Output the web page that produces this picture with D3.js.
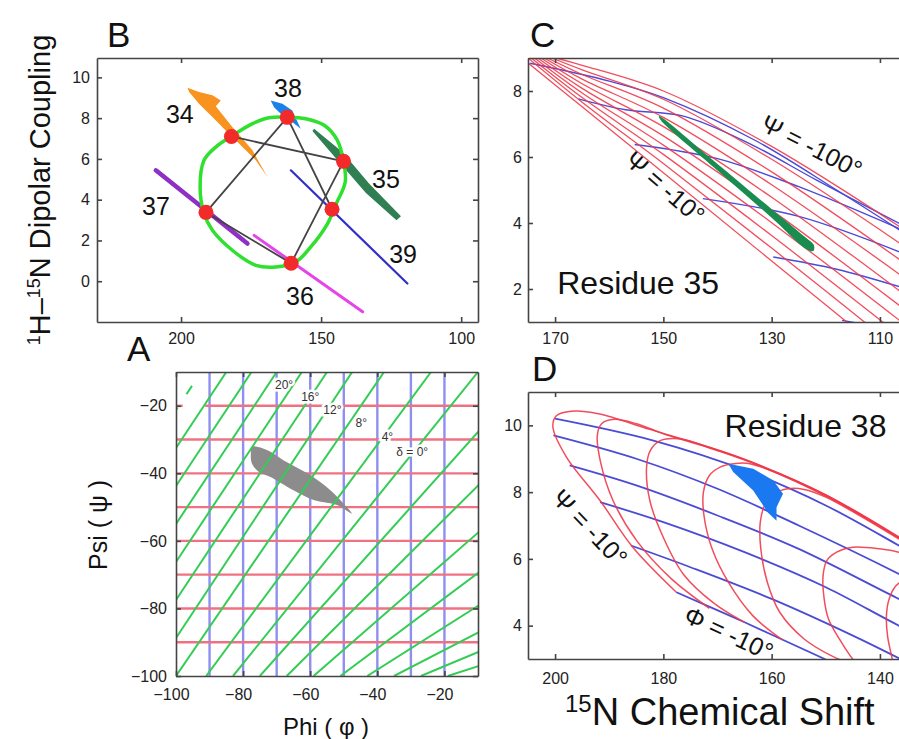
<!DOCTYPE html>
<html>
<head>
<meta charset="utf-8">
<script src="https://cdn.jsdelivr.net/npm/d3@7/dist/d3.min.js"></script>
<style>
  body { margin: 0; background: #fff; }
  svg text { font-family: "Liberation Sans", Arial, Helvetica, sans-serif; }
</style>
</head>
<body>
<script>
// ---------- panel B : PISA wheel (15N shift vs dipolar coupling) ----------
var residues = ["34", "35", "36", "37", "38", "39"];
var resShift = [182.0, 142.0, 160.7, 191.1, 162.1, 146.1];
var resDC = [7.1, 5.88, 0.88, 3.38, 8.04, 3.53];
var resLabelShift = [205.4, 131.8, 162.5, 213.9, 166.8, 125.7];
var resLabelDC = [7.75, 4.56, -1.18, 3.24, 9.02, 0.88];
var wheelShift = [182.0, 174.5, 168.6, 162.0, 155.5, 148.9, 144.2, 142.0, 141.4, 144.6, 147.7, 153.7, 159.0, 166.2, 173.3, 181.7, 188.8, 191.8, 193.2, 191.8, 187.6];
var wheelDC = [7.11, 7.73, 8.02, 8.05, 7.97, 7.65, 6.91, 5.88, 4.87, 3.8, 2.83, 1.68, 0.95, 0.70, 0.78, 1.52, 2.5, 3.32, 4.62, 5.93, 6.58];
var streak34 = [[197.7, 9.49], [193.6, 9.28], [188.8, 9.12], [185.8, 8.87], [187.6, 8.58], [181.7, 7.56], [174.5, 6.42], [169.2, 5.11], [173.3, 5.93], [179.3, 6.75], [182.9, 7.24], [188.8, 8.05], [193.6, 8.71], [197.1, 9.28]];
var streak38 = [[168.0, 8.87], [163.8, 8.71], [160.3, 8.38], [157.3, 7.48], [160.3, 7.81], [163.2, 8.05], [166.8, 8.54]];
var streak35 = [[152.5, 7.48], [142.4, 6.34], [132.9, 4.79], [121.5, 3.19], [123.1, 2.99], [134.0, 4.33], [143.6, 5.85], [153.1, 7.37]];
var streak39 = [[160.8, 5.44], [119.2, -0.11]];
var streak37 = [[209.0, 5.44], [176.3, 1.85]];
var streak36 = [[173.9, 2.25], [135.2, -1.5]];

// ---------- panel A : Ramachandran grid ----------
var aPhiGrid = [-90, -80, -70, -60, -50, -40, -30, -20];
var aPsiGrid = [-30, -40, -50, -60, -70, -80, -90];
var aGreenBottomPhi = [-160, -152.5, -145, -137.5, -130, -122.5, -115, -107.5, -100, -91, -83, -75, -67, -59, -51, -43, -35, -27, -19];
var aGreenTopPhi = [-100, -92.5, -85, -77.5, -70, -62.5, -55, -47.5, -38, -24, -10, 6, 24, 45, 70, 100, 140, 190, 260];
var aDeltaText = ["20°", "16°", "12°", "8°", "4°", "δ = 0°"];
var aDeltaPhi = [-67.8, -60, -53.4, -44.8, -37, -29.6];
var aDeltaPsi = [-13.8, -17.4, -21.3, -25.1, -29.3, -33.7];
var aBlob = [[-77.4, -32.1], [-72.9, -33.1], [-68, -36.1], [-60, -40.5], [-54, -45], [-50.1, -48.9], [-47.6, -51.9], [-52, -49.4], [-59, -47.9], [-65, -45], [-72, -41], [-75.4, -39.5], [-77.4, -37], [-77.7, -34.1]];

// ---------- panel C : residue 35 ----------
var cRedStartX = [175.5, 175, 174.4, 173.8, 173.2, 172.6, 172, 171.4, 170.6, 169.8];
var cRedStartY = [8.92, 9.0, 9.0, 9.0, 9.0, 9.0, 9.0, 9.0, 9.0, 9.0];
var cRedAt165 = [7.52, 7.66, 7.8, 7.94, 8.08, 8.22, 8.36, 8.5, 8.64, 8.78];
var cRedAt150 = [5.52, 5.8, 6.08, 6.36, 6.64, 6.92, 7.2, 7.48, 7.75, 8.0];
var cRedAt130 = [2.85, 3.24, 3.62, 4.01, 4.39, 4.78, 5.16, 5.55, 5.93, 6.32];
var cRedAt106 = [-0.35, 0.1, 0.55, 1.0, 1.45, 1.9, 2.4, 2.85, 3.35, 3.85];
var cBlue = [
  [[117, 1.05], [105, 0.7]],
  [[129.7, 2.97], [118, 2.6], [106, 2.05]],
  [[142.7, 4.74], [125, 4.2], [106, 3.1]],
  [[155.3, 6.38], [140, 5.95], [125, 5.1], [106, 3.8]],
  [[165.7, 7.76], [157, 7.43], [146.3, 7.24], [134, 6.4], [121.7, 5.3], [106, 3.95]],
  [[174.6, 8.84], [160, 8.3], [150, 7.8], [133, 6.5], [118, 5.0], [106, 3.75]]
];
var cStreak = [[150.8, 7.24], [140, 5.79], [130, 4.42], [124, 3.60], [122.2, 3.33], [122.3, 3.15], [123.5, 3.2], [130, 4.16], [140, 5.59], [150.5, 7.12]];

// ---------- panel D : residue 38 ----------
var dRed = [
  [[177.6, 5.0], [185.6, 6.34], [191.7, 7.75], [197.9, 9.05], [200.4, 9.95], [199.8, 10.28], [197, 10.42], [192, 10.35], [182.5, 9.88], [173, 9.42], [164, 8.92], [150, 7.92], [136.5, 6.66], [128, 5.8]],
  [[171.5, 4.52], [178.5, 5.4], [184.9, 6.54], [189.3, 7.75], [191.6, 8.9], [192.2, 9.7], [191.4, 10.05], [189, 10.18], [185, 10.05], [180, 9.75], [173, 9.4], [164, 8.9], [150, 7.9], [136.5, 6.64], [128, 5.78]],
  [[165, 4.1], [170.5, 4.65], [176.3, 5.54], [180, 6.64], [182.5, 7.75], [183.1, 8.75], [182.4, 9.25], [180.5, 9.55], [177, 9.6], [173, 9.42], [164, 8.92], [150, 7.92], [136.5, 6.64], [128, 5.78]],
  [[158, 3.57], [163.5, 4.3], [168, 5.3], [171, 6.3], [172.5, 7.3], [172.6, 8.0], [171.5, 8.5], [169.5, 8.75], [167, 8.85], [164, 8.85], [150, 7.88], [136.5, 6.62], [128, 5.76]],
  [[144.5, 2.8], [149, 3.1], [154, 3.6], [158.5, 4.4], [160.8, 5.3], [162, 6.3], [162.1, 7.1], [161.3, 7.6], [159.5, 7.95], [157, 8.1], [154, 8.08], [150, 7.85], [136.5, 6.6], [128, 5.74]],
  [[143.5, 2.7], [145.5, 3.1], [147.5, 3.6], [149.5, 4.2], [150.3, 4.8], [150.5, 5.5], [149.8, 5.95], [148, 6.2], [145, 6.35], [140, 6.3], [136.5, 6.2], [128, 5.6]],
  [[137.3, 2.7], [138, 3.2], [138.6, 3.7], [138.8, 4.3], [138.3, 4.8], [137, 5.2], [135, 5.4], [130, 5.3]]
];
var dBlue = [
  [[200, 10.2], [182, 9.55], [164, 8.6], [150, 7.6], [136.5, 6.4], [130, 5.8]],
  [[200.3, 9.7], [185, 9.0], [170, 8.1], [155, 7.0], [136.5, 5.55], [130, 5.0]],
  [[197.3, 8.8], [185, 8.2], [170, 7.3], [155, 6.3], [136.5, 4.8], [130, 4.3]],
  [[191.7, 7.7], [180, 7.1], [165, 6.2], [150, 5.15], [136.5, 4.0], [130, 3.5]],
  [[186, 6.4], [175, 5.75], [160, 4.8], [145, 3.7], [135, 2.9]],
  [[177.6, 5.0], [165, 4.1], [150.2, 3.0], [146, 2.7]]
];
var dStreak = [[168.0, 8.85], [163.4, 8.70], [159.7, 8.35], [157.9, 7.95], [159.1, 7.55], [159.1, 7.14], [160.7, 7.39], [163.4, 8.05], [167.1, 8.6]];

// ---------- scales ----------
var svg = d3.select("body").append("svg").attr("width", 899).attr("height", 739);

var xB = d3.scaleLinear().domain([230, 94]).range([97, 478]);
var yB = d3.scaleLinear().domain([-2, 10.95]).range([322, 58]);
var xC = d3.scaleLinear().domain([175, 105]).range([528, 907]);
var yC = d3.scaleLinear().domain([1, 9]).range([322, 58]);
var xA = d3.scaleLinear().domain([-100, -10]).range([176, 478]);
var yA = d3.scaleLinear().domain([-100, -10]).range([676, 372]);
var xD = d3.scaleLinear().domain([205, 135]).range([528, 907]);
var yD = d3.scaleLinear().domain([3, 11]).range([659, 392]);

function clip(id, x, y) {
  svg.append("clipPath").attr("id", id).append("rect")
    .attr("x", x.range()[0]).attr("y", y.range()[1])
    .attr("width", x.range()[1] - x.range()[0]).attr("height", y.range()[0] - y.range()[1]);
  return svg.append("g").attr("clip-path", "url(#" + id + ")");
}

function frame(x, y, xt, yt, padX, padY, dx) {
  var g = svg.append("g");
  var xr = x.range(), yr = y.range();
  g.append("g").attr("transform", "translate(0," + yr[0] + ")")
    .call(d3.axisBottom(x).tickValues(xt).tickSizeInner(-5).tickSizeOuter(0).tickPadding(padX))
    .selectAll("text").attr("dx", dx || 0);
  g.append("g").attr("transform", "translate(0," + yr[1] + ")")
    .call(d3.axisTop(x).tickValues(xt).tickSizeInner(-5).tickSizeOuter(0).tickFormat(""));
  g.append("g").attr("transform", "translate(" + xr[0] + ",0)")
    .call(d3.axisLeft(y).tickValues(yt).tickSizeInner(-5).tickSizeOuter(0).tickPadding(padY));
  g.append("g").attr("transform", "translate(" + xr[1] + ",0)")
    .call(d3.axisRight(y).tickValues(yt).tickSizeInner(-5).tickSizeOuter(0).tickFormat(""));
  g.selectAll(".domain, .tick line").attr("stroke", "#444").attr("stroke-width", 1.6);
  g.selectAll(".tick text").attr("font-size", 16).attr("fill", "#222");
}

// panel letter sits above the top-left corner of its frame
function panelLetter(txt, x, y, dx) {
  svg.append("text").attr("x", x.range()[0] + dx).attr("y", y.range()[1] - 11)
    .attr("font-size", 35).attr("fill", "#111").text(txt);
}

var line = d3.line();

// ================= panel B =================
var gB = clip("clipB", xB, yB);
var lineB = d3.line().x(function(d) { return xB(d[0]); }).y(function(d) { return yB(d[1]); });
gB.append("path").attr("d", lineB(streak36)).attr("fill", "none").attr("stroke", "#e444ea").attr("stroke-width", 3).attr("stroke-linecap", "round");
gB.append("path").attr("d", lineB(streak37)).attr("fill", "none").attr("stroke", "#8e2fc6").attr("stroke-width", 4.5).attr("stroke-linecap", "round");
gB.append("path").attr("d", lineB(streak39)).attr("fill", "none").attr("stroke", "#3030c8").attr("stroke-width", 2.2).attr("stroke-linecap", "round");
gB.append("path").attr("d", lineB(streak34) + "Z").attr("fill", "#f7931e");
gB.append("path").attr("d", lineB(streak38) + "Z").attr("fill", "#1c80ea");
gB.append("path").attr("d", lineB(streak35) + "Z").attr("fill", "#2f7f52");

var ovalPts = wheelShift.map(function(s, i) { return [xB(s), yB(wheelDC[i])]; });
gB.append("path").attr("d", d3.line().curve(d3.curveCatmullRomClosed)(ovalPts))
  .attr("fill", "none").attr("stroke", "#2fe02f").attr("stroke-width", 3.5);

var resPts = resShift.map(function(s, i) { return [xB(s), yB(resDC[i])]; });
gB.append("path").attr("d", line(resPts)).attr("fill", "none").attr("stroke", "#444").attr("stroke-width", 1.8);
gB.selectAll("circle").data(resPts).enter().append("circle")
  .attr("cx", function(d) { return d[0]; }).attr("cy", function(d) { return d[1]; })
  .attr("r", 7.5).attr("fill", "#f22a2a");
svg.selectAll("text.res").data(residues).enter().append("text").attr("class", "res")
  .attr("x", function(d, i) { return xB(resLabelShift[i]); })
  .attr("y", function(d, i) { return yB(resLabelDC[i]); })
  .attr("font-size", 25).attr("fill", "#111").text(function(d) { return d; });
frame(xB, yB, [200, 150, 100], [0, 2, 4, 6, 8, 10], 11, 7);

// ================= panel A =================
var gA = clip("clipA", xA, yA);
aPhiGrid.forEach(function(p) {
  gA.append("line").attr("x1", xA(p)).attr("x2", xA(p)).attr("y1", yA(-100)).attr("y2", yA(-10))
    .attr("stroke", "#8f8ff2").attr("stroke-width", 2.4);
});
gA.append("line").attr("x1", xA(-100)).attr("x2", xA(-98)).attr("y1", yA(-20)).attr("y2", yA(-20))
  .attr("stroke", "#f07282").attr("stroke-width", 2.4);
gA.append("line").attr("x1", xA(-91.3)).attr("x2", xA(-10)).attr("y1", yA(-20)).attr("y2", yA(-20))
  .attr("stroke", "#f07282").attr("stroke-width", 2.4);
aPsiGrid.forEach(function(p) {
  gA.append("line").attr("x1", xA(-100)).attr("x2", xA(-10)).attr("y1", yA(p)).attr("y2", yA(p))
    .attr("stroke", "#f07282").attr("stroke-width", 2.4);
});
gA.append("path").attr("d", d3.line().curve(d3.curveCatmullRomClosed)
    .x(function(d) { return xA(d[0]); }).y(function(d) { return yA(d[1]); })(aBlob))
  .attr("fill", "#8c8c8c");
aGreenBottomPhi.forEach(function(b, i) {
  gA.append("line").attr("x1", xA(b)).attr("y1", yA(-100)).attr("x2", xA(aGreenTopPhi[i])).attr("y2", yA(-10))
    .attr("stroke", "#33cc55").attr("stroke-width", 2)
    .attr("stroke-dasharray", i < 2 ? "10,16" : null);
});
gA.selectAll("text").data(aDeltaText).enter().append("text")
  .attr("x", function(d, i) { return xA(aDeltaPhi[i]); })
  .attr("y", function(d, i) { return yA(aDeltaPsi[i]); })
  .attr("dy", "0.35em").attr("text-anchor", "middle").attr("font-size", 12).attr("fill", "#333")
  .attr("stroke", "#fff").attr("stroke-width", 5).attr("paint-order", "stroke")
  .text(function(d) { return d; });
frame(xA, yA, [-100, -80, -60, -40, -20], [-100, -80, -60, -40, -20], 13, 9, -5);

// ================= panel C =================
var gC = clip("clipC", xC, yC);
var lineC = d3.line().curve(d3.curveCatmullRom).x(function(d) { return xC(d[0]); }).y(function(d) { return yC(d[1]); });
cBlue.forEach(function(pts) {
  gC.append("path").attr("d", lineC(pts)).attr("fill", "none").attr("stroke", "#4a4ad8").attr("stroke-width", 1.4);
});
cRedStartX.forEach(function(sx, i) {
  var pts = [[sx, cRedStartY[i]], [165, cRedAt165[i]], [150, cRedAt150[i]], [130, cRedAt130[i]], [106, cRedAt106[i]]];
  gC.append("path").attr("d", lineC(pts)).attr("fill", "none").attr("stroke", "#f03a4a").attr("stroke-width", 1.3).attr("stroke-opacity", 0.9);
});
gC.append("path").attr("d", d3.line().curve(d3.curveCatmullRomClosed)
    .x(function(d) { return xC(d[0]); }).y(function(d) { return yC(d[1]); })(cStreak))
  .attr("fill", "#1a8c50");
frame(xC, yC, [170, 150, 130, 110], [2, 4, 6, 8], 11, 6);

// ================= panel D =================
var gD = clip("clipD", xD, yD);
var lineD = d3.line().curve(d3.curveCatmullRom).x(function(d) { return xD(d[0]); }).y(function(d) { return yD(d[1]); });
dBlue.forEach(function(pts) {
  gD.append("path").attr("d", lineD(pts)).attr("fill", "none").attr("stroke", "#4b4bd6").attr("stroke-width", 1.8);
});
dRed.forEach(function(pts) {
  gD.append("path").attr("d", lineD(pts)).attr("fill", "none").attr("stroke", "#f03a4a").attr("stroke-width", 1.5).attr("stroke-opacity", 0.9);
});
gD.append("path").attr("d", d3.line().x(function(d) { return xD(d[0]); }).y(function(d) { return yD(d[1]); })(dStreak) + "Z")
  .attr("fill", "#1a78f0");
frame(xD, yD, [200, 180, 160, 140], [4, 6, 8, 10], 14, 6);

// ================= text =================
function label(txt, x, y, size, rot, anchor) {
  return svg.append("text").attr("transform", "translate(" + x + "," + y + ") rotate(" + (rot || 0) + ")")
    .attr("font-size", size).attr("fill", "#111").attr("text-anchor", anchor || "start").text(txt);
}
panelLetter("B", xB, yB, 10);
panelLetter("C", xC, yC, 2);
panelLetter("A", xA, yA, -49);
panelLetter("D", xD, yD, 4);

label("Residue 35", xC(169.6), yC(1.86), 32);
label("Residue 38", xD(168.7), yD(9.64), 32);
label("Ψ = -100°", xC(122.6), yC(6.32), 25, 27, "middle").attr("dy", "0.35em");
label("Ψ = -10°", xC(149.7), yC(5.08), 25, 41, "middle").attr("dy", "0.35em");
label("Ψ = -10°", xD(193.6), yD(6.93), 25, 46, "middle").attr("dy", "0.35em");
label("Φ = -10°", xD(167.9), yD(3.77), 25, 25, "middle").attr("dy", "0.35em");

var yl = svg.append("text").attr("transform", "translate(50,190) rotate(-90)")
  .attr("text-anchor", "middle").attr("font-size", 29).attr("fill", "#111");
yl.append("tspan").attr("baseline-shift", "super").attr("font-size", 18).text("1");
yl.append("tspan").text("H–");
yl.append("tspan").attr("baseline-shift", "super").attr("font-size", 18).text("15");
yl.append("tspan").text("N Dipolar Coupling");

label("Psi ( ψ )", 107, 525, 25, -90, "middle");
label("Phi (  φ )", 326, 735, 24, 0, "middle");

var xl = svg.append("text").attr("x", 565).attr("y", 725).attr("font-size", 38).attr("fill", "#111");
xl.append("tspan").attr("baseline-shift", "super").attr("font-size", 24).text("15");
xl.append("tspan").text("N Chemical Shift");
</script>
</body>
</html>
